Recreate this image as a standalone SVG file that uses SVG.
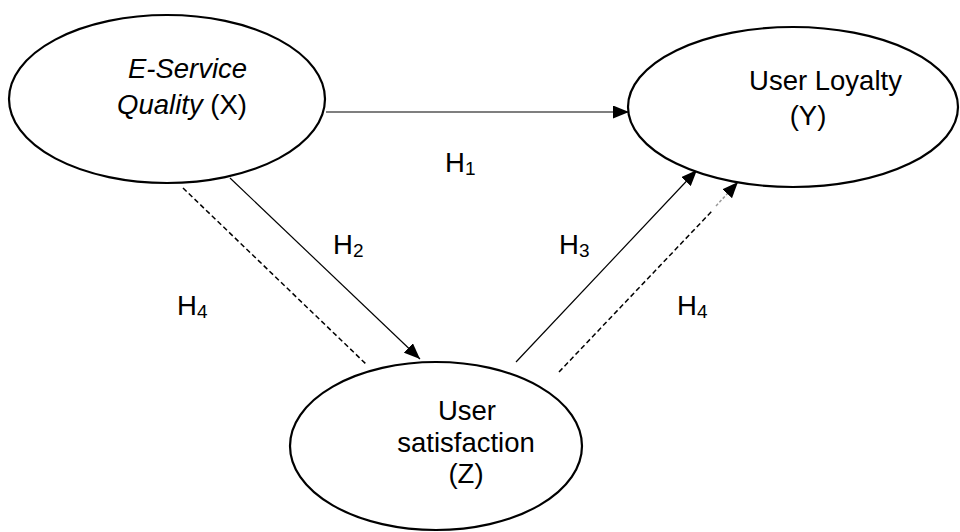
<svg xmlns="http://www.w3.org/2000/svg" width="960" height="532" viewBox="0 0 960 532">
<style>
.node{fill:#fff;stroke:#000;stroke-width:2.2}
.t{font-family:"Liberation Sans",Arial,sans-serif;font-size:27.5px;fill:#000}
.c{text-anchor:middle}
.sub{font-size:19px}
.ln{fill:none;stroke:#000;stroke-width:1.2}
.dash{fill:none;stroke:#000;stroke-width:1.5;stroke-dasharray:5 3}
</style>
<defs>
<marker id="ah" markerUnits="userSpaceOnUse" markerWidth="17" markerHeight="13" refX="16" refY="6.5" orient="auto">
<path d="M0,0 L16,6.5 L0,13 z" fill="#000"/>
</marker>
</defs>
<g id="connectors">
<path class="ln" d="M326,112 L629,112" marker-end="url(#ah)"/>
<path class="ln" d="M230,178 L420,359" marker-end="url(#ah)"/>
<path class="dash" d="M183,188 L367,365"/>
<path class="ln" d="M516,362 L697,170" marker-end="url(#ah)"/>
<g id="h4-right">
<path class="dash" d="M559,372 L712,211"/>
<path fill="none" stroke="#999" stroke-width="1.5" stroke-dasharray="3 2" d="M716,206 L738,182" marker-end="url(#ah)"/>
</g>
</g>
<g id="node-x">
<ellipse class="node" cx="167" cy="99" rx="158" ry="84"/>
<text class="t c" x="187.5" y="78"><tspan font-style="italic">E-Service</tspan></text>
<text class="t c" x="182" y="114"><tspan font-style="italic">Quality</tspan> (X)</text>
</g>
<g id="node-y">
<ellipse class="node" cx="793" cy="107" rx="165" ry="80"/>
<text class="t c" x="825.5" y="90">User Loyalty</text>
<text class="t c" x="808" y="125">(Y)</text>
</g>
<g id="node-z">
<ellipse class="node" cx="436" cy="446" rx="146" ry="84"/>
<text class="t c" x="467" y="420">User</text>
<text class="t c" x="466" y="452">satisfaction</text>
<text class="t c" x="466" y="483">(Z)</text>
</g>
<g id="labels">
<text class="t" x="445" y="172">H<tspan class="sub" dy="3">1</tspan></text>
<text class="t" x="333" y="254">H<tspan class="sub" dy="3">2</tspan></text>
<text class="t" x="559" y="254">H<tspan class="sub" dy="3">3</tspan></text>
<text class="t" x="177" y="315">H<tspan class="sub" dy="3">4</tspan></text>
<text class="t" x="677" y="315">H<tspan class="sub" dy="3">4</tspan></text>
</g>
</svg>
